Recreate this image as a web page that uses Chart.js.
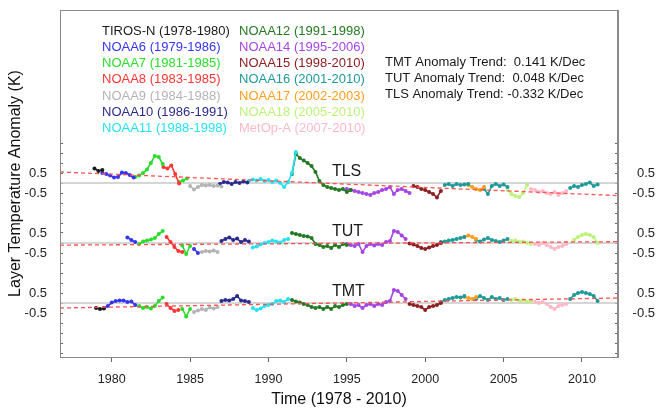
<!DOCTYPE html>
<html lang="en">
<head>
<meta charset="UTF-8">
<title>Layer Temperature Anomaly</title>
<script src="https://cdn.jsdelivr.net/npm/chart.js"></script>
<style>
    body { margin: 0; background: #fff; }
    canvas { display: block; }
</style>
</head>
<body>
<canvas id="chart" width="657" height="410"></canvas>
<script>
    // satellites, in legend order (two columns of seven)
    const satNames = ['TIROS-N', 'NOAA6', 'NOAA7', 'NOAA8', 'NOAA9', 'NOAA10', 'NOAA11',
        'NOAA12', 'NOAA14', 'NOAA15', 'NOAA16', 'NOAA17', 'NOAA18', 'MetOp-A'];
    const satYears = ['1978-1980', '1979-1986', '1981-1985', '1983-1985', '1984-1988', '1986-1991', '1988-1998',
        '1991-1998', '1995-2006', '1998-2010', '2001-2010', '2002-2003', '2005-2010', '2007-2010'];
    const satColors = ['#1a1a1a', '#3535f5', '#2bdc2b', '#ff3535', '#b4b4b4', '#2b2b8f', '#25e2f2',
        '#237a23', '#a445e6', '#8e1f22', '#1f9a9a', '#ff9d1c', '#bdf27a', '#ffb9c6'];

    // anomaly series (K), one value every quarter year from the segment start
    const step = 0.25;
    const tlsSegments = [
        ['TIROS-N', 1978.9, [0.72, 0.6, 0.65]],
        ['NOAA6', 1979.4, [0.5, 0.45, 0.38, 0.28, 0.3, 0.52, 0.5, 0.4, 0.27]],
        ['NOAA7', 1981.5, [0.3, 0.38, 0.5, 0.68, 1.0, 1.35, 1.3, 0.95]],
        ['NOAA8', 1983.3, [0.8, 0.72, 0.88, 0.45, -0.03]],
        ['NOAA7', 1984.3, [0.05, 0.12, 0.22]],
        ['NOAA9', 1985.0, [-0.15, -0.33, -0.2, -0.1, -0.12, -0.1, -0.15, -0.12, -0.18]],
        ['NOAA10', 1986.9, [-0.05, 0.05, 0.02, -0.05, 0.05, 0.0, 0.08, 0.02]],
        ['NOAA11', 1988.75, [0.1, 0.18, 0.12, 0.2, 0.1, 0.15, 0.05, 0.12, 0.0, -0.2, 0.05, 0.5, 1.55]],
        ['NOAA12', 1991.5, [0.45, 1.45, 1.25, 1.12, 1.0, 0.85, 0.55, 0.1, -0.1, -0.2, -0.25, -0.3, -0.35, -0.3, -0.45, -0.35]],
        ['NOAA14', 1995.0, [-0.3, -0.35, -0.4, -0.45, -0.5, -0.55, -0.6, -0.5, -0.45, -0.35, -0.3, -0.2, -0.55, -0.35, -0.3, -0.4, -0.5]],
        ['NOAA15', 1999.25, [-0.15, -0.2, -0.3, -0.35, -0.45, -0.55, -0.72, -0.4]],
        ['NOAA16', 2001.25, [-0.1, -0.05, -0.15, -0.05, -0.1, -0.08, -0.05]],
        ['NOAA17', 2002.75, [-0.1, -0.2, -0.3, -0.35, -0.2]],
        ['NOAA16', 2003.75, [-0.3, -0.55, -0.15, -0.05, -0.15, -0.08, -0.2]],
        ['NOAA18', 2005.25, [-0.35, -0.55, -0.65, -0.7, -0.5, -0.1]],
        ['MetOp-A', 2006.75, [-0.3, -0.35, -0.45, -0.4, -0.5, -0.55, -0.45, -0.6, -0.5, -0.4]],
        ['NOAA16', 2009.25, [-0.25, -0.15, -0.2, -0.1, -0.05, 0.02, -0.15, -0.08]]
    ];
    const tutSegments = [
        ['NOAA6', 1981.0, [0.28, 0.15, 0.05]],
        ['NOAA7', 1981.75, [-0.05, 0.08, 0.12, 0.18, 0.25, 0.45, 0.6]],
        ['NOAA8', 1983.5, [0.3, 0.05, -0.2, -0.4, -0.45]],
        ['NOAA7', 1984.5, [-0.13, -0.55, -0.15]],
        ['NOAA6', 1985.25, [-0.3, -0.5]],
        ['NOAA9', 1985.75, [-0.45, -0.4, -0.42, -0.38, -0.45]],
        ['NOAA10', 1987.0, [0.1, 0.2, 0.28, 0.15, 0.22, 0.05, 0.15, 0.08]],
        ['NOAA11', 1989.0, [-0.22, -0.18, -0.08, 0.0, 0.05, 0.12, 0.08, 0.03, 0.15, 0.2]],
        ['NOAA12', 1991.5, [0.5, 0.45, 0.4, 0.35, 0.32, 0.25, -0.05, -0.1, -0.2, -0.15, -0.25, -0.1, -0.2, -0.05, -0.1]],
        ['NOAA14', 1995.0, [-0.05, -0.1, -0.15, -0.05, -0.45, -0.15, -0.05, -0.12, -0.05, -0.1, 0.05, 0.1, 0.6, 0.55, 0.38, 0.2]],
        ['NOAA15', 1999.0, [-0.02, -0.08, -0.15, -0.25, -0.3, -0.22, -0.15, -0.1, 0.0]],
        ['NOAA16', 2001.0, [0.05, 0.08, 0.12, 0.15, 0.2, 0.25, 0.3]],
        ['NOAA17', 2002.5, [0.3, 0.37, 0.3, 0.2]],
        ['NOAA16', 2003.25, [0.15, 0.08, 0.18, 0.25, 0.15, 0.1, 0.05, 0.12, 0.2]],
        ['NOAA18', 2005.5, [0.1, 0.12, 0.05, 0.08, 0.0, -0.05]],
        ['MetOp-A', 2007.0, [-0.05, -0.1, 0.0, -0.1, -0.2, -0.3, -0.2, -0.15, -0.05]],
        ['NOAA18', 2009.5, [0.15, 0.3, 0.4, 0.45, 0.4, 0.3, 0.0]]
    ];
    const tmtSegments = [
        ['TIROS-N', 1979.0, [-0.25, -0.3, -0.28]],
        ['NOAA6', 1979.5, [-0.25, -0.15, 0.02, 0.1, 0.12, 0.13, 0.05, 0.08, -0.1]],
        ['NOAA7', 1981.75, [-0.15, -0.25, -0.2, -0.28, -0.15, 0.1, 0.27]],
        ['NOAA8', 1983.5, [-0.05, -0.25, -0.4, -0.35]],
        ['NOAA7', 1984.5, [-0.3, -0.67, -0.3]],
        ['NOAA9', 1985.25, [-0.45, -0.38, -0.3, -0.35, -0.22, -0.28, -0.2]],
        ['NOAA10', 1987.0, [0.1, 0.15, 0.12, 0.2, 0.35, 0.12, 0.1, 0.05]],
        ['NOAA11', 1989.0, [-0.25, -0.35, -0.28, -0.15, -0.1, -0.05, 0.1, 0.13, 0.05, 0.2]],
        ['NOAA12', 1991.5, [0.15, 0.08, 0.02, -0.05, -0.1, -0.2, -0.25, -0.2, -0.3, -0.2, -0.3, -0.15, -0.2, -0.1, -0.05]],
        ['NOAA14', 1995.25, [-0.05, -0.15, -0.1, -0.25, -0.1, -0.05, -0.15, -0.05, -0.1, 0.05, 0.1, 0.65, 0.6, 0.4, 0.2]],
        ['NOAA15', 1999.0, [-0.05, -0.1, -0.15, -0.2, -0.35, -0.2, -0.15, -0.1, 0.0]],
        ['NOAA16', 2001.0, [0.05, 0.15, 0.2, 0.25, 0.3, 0.28, 0.35]],
        ['NOAA17', 2002.5, [0.3, 0.25, 0.2, 0.3]],
        ['NOAA16', 2003.25, [0.2, 0.35, 0.25, 0.15, 0.3, 0.2, 0.25, 0.15, 0.2]],
        ['NOAA18', 2005.5, [0.15, 0.2, 0.1, 0.15, 0.05, 0.1]],
        ['MetOp-A', 2007.0, [0.05, 0.0, 0.05, -0.05, -0.2, -0.3, -0.15, -0.1, -0.05]],
        ['NOAA16', 2009.25, [0.2, 0.4, 0.5, 0.55, 0.5, 0.45, 0.35, 0.1]]
    ];

    // layers are stacked with a vertical offset (K) so they don't overlap
    const layerNames = ['TLS', 'TUT', 'TMT'];
    const layerOffsets = [6, 3, 0];
    const layerSegments = [tlsSegments, tutSegments, tmtSegments];
    // linear trends: slope in K/decade, value at mid-period (1994.5)
    const trendSlopes = [-0.332, 0.048, 0.141];
    const trendMidValues = [-0.04, -0.02, 0.0];
    const trendMidYear = 1994.5;

    const xMin = 1976.7, xMax = 2012.3;
    const yMin = -2.7, yMax = 14.65;
    const xTickValues = [1980, 1985, 1990, 1995, 2000, 2005, 2010];

    const fontFamily = '"Liberation Sans", Arial, sans-serif';
    Chart.defaults.font.family = fontFamily;

    const datasets = [];
    layerNames.forEach((name, k) => {
        const off = layerOffsets[k];
        // trend line
        const trendAt = x => off + trendMidValues[k] + trendSlopes[k] / 10 * (x - trendMidYear);
        datasets.push({
            data: [{ x: xMin, y: trendAt(xMin) }, { x: xMax, y: trendAt(xMax) }],
            borderColor: '#ff5252', borderWidth: 1.3, borderDash: [4, 3],
            pointRadius: 0, order: 0
        });
        // zero line
        datasets.push({
            data: [{ x: xMin, y: off }, { x: xMax, y: off }],
            borderColor: '#c9c9c9', borderWidth: 1.5, pointRadius: 0, order: 2
        });
        layerSegments[k].forEach(([sat, start, values]) => {
            const color = satColors[satNames.indexOf(sat)];
            datasets.push({
                data: values.map((v, i) => ({ x: start + i * step, y: v + off })),
                borderColor: color, backgroundColor: color,
                pointBackgroundColor: color, pointBorderWidth: 0,
                borderWidth: 1.6, pointRadius: 2, order: 1
            });
        });
    });

    const yTickValues = [];
    for (let v = -2.5; v <= 8.001; v += 0.5) yTickValues.push(Math.round(v * 10) / 10);

    function yLabel(value) {
        for (const off of layerOffsets) {
            if (Math.abs(value - (off + 0.5)) < 1e-6) return '0.5';
            if (Math.abs(value - (off - 0.5)) < 1e-6) return '-0.5';
        }
        return '';
    }

    function yAxis(position) {
        return {
            type: 'linear', position: position, min: yMin, max: yMax,
            afterBuildTicks: s => { s.ticks = yTickValues.map(v => ({ value: v })); },
            afterFit: s => {
                s.width = position === 'left' ? 60 : 37;
                s.paddingTop = 0;
                s.paddingBottom = 0;
            },
            ticks: {
                autoSkip: false, callback: yLabel, color: '#222',
                font: { size: 13 }, padding: position === 'left' ? 16 : 18,
                crossAlign: position === 'left' ? 'near' : 'far'
            },
            grid: { drawOnChartArea: false, tickLength: -3, color: '#666' },
            border: { color: '#8a8a8a' },
            title: {
                display: position === 'left', text: 'Layer Temperature Anomaly (K)',
                color: '#111', font: { size: 16 }, padding: { top: 6, bottom: 0 }
            }
        };
    }

    const textPlugin = {
        id: 'chartText',
        afterDraw(chart) {
            const { ctx, chartArea, scales } = chart;
            ctx.save();
            // frame
            ctx.strokeStyle = '#8a8a8a';
            ctx.lineWidth = 1;
            ctx.strokeRect(chartArea.left + 0.5, chartArea.top + 0.5,
                chartArea.right - chartArea.left - 1, chartArea.bottom - chartArea.top);
            // satellite legend, coloured text
            ctx.font = '13px ' + fontFamily;
            ctx.textBaseline = 'middle';
            ctx.textAlign = 'left';
            satNames.forEach((name, i) => {
                const col = Math.floor(i / 7), row = i % 7;
                ctx.fillStyle = satColors[i];
                ctx.fillText(name + ' (' + satYears[i] + ')',
                    chartArea.left + 42 + col * 137, chartArea.top + 21 + row * 16.3);
            });
            // trend text
            ctx.fillStyle = '#1a1a1a';
            ['TMT', 'TUT', 'TLS'].forEach((name, row) => {
                const s = trendSlopes[layerNames.indexOf(name)];
                const txt = name + ' Anomaly Trend: ' + (s >= 0 ? ' ' : '') + s.toFixed(3) + ' K/Dec';
                ctx.fillText(txt, chartArea.left + 325, chartArea.top + 52 + row * 16.3);
            });
            // layer names
            ctx.font = '16px ' + fontFamily;
            layerNames.forEach((name, k) => {
                ctx.fillText(name, scales.x.getPixelForValue(1994.05),
                    scales.y.getPixelForValue(layerOffsets[k] + 0.55));
            });
            ctx.restore();
        }
    };

    new Chart(document.getElementById('chart'), {
        type: 'line',
        data: { datasets: datasets },
        options: {
            responsive: false,
            animation: false,
            events: [],
            layout: { padding: { top: 10, left: 0, right: 2, bottom: 0 } },
            plugins: { legend: { display: false }, tooltip: { enabled: false } },
            scales: {
                x: {
                    type: 'linear', min: xMin, max: xMax,
                    afterBuildTicks: s => { s.ticks = xTickValues.map(v => ({ value: v })); },
                    afterFit: s => {
                        s.height = 53;
                        s.paddingLeft = 0;
                        s.paddingRight = 0;
                    },
                    ticks: { color: '#222', font: { size: 12.5 }, padding: 10, callback: v => String(v) },
                    grid: { drawOnChartArea: false, tickLength: 5, color: '#666' },
                    border: { color: '#8a8a8a' },
                    title: {
                        display: true, text: 'Time (1978 - 2010)', color: '#111',
                        font: { size: 16 }, padding: { top: 0, bottom: 1 }
                    }
                },
                y: yAxis('left'),
                y2: yAxis('right')
            }
        },
        plugins: [textPlugin]
    });
</script>
</body>
</html>
